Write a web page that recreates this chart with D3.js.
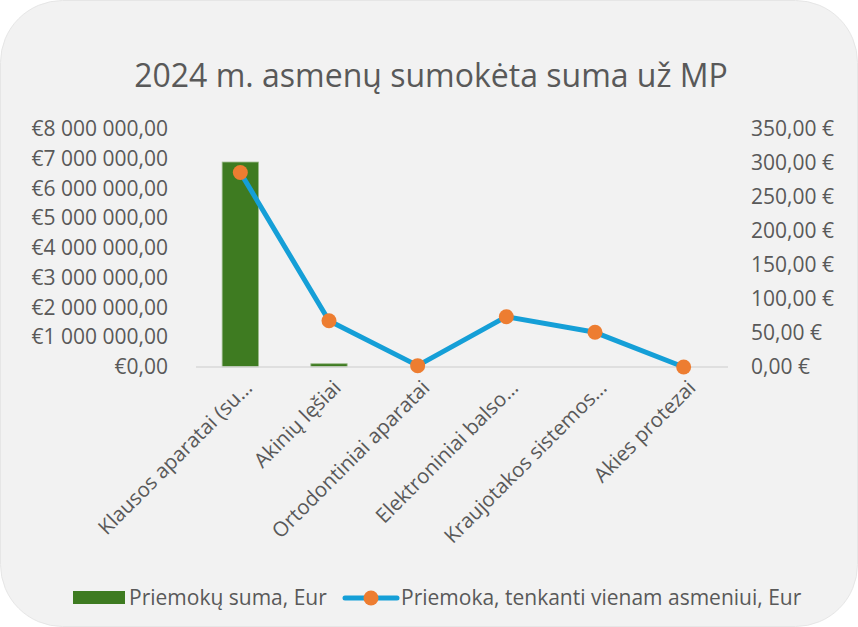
<!DOCTYPE html>
<html>
<head>
<meta charset="utf-8">
<script src="https://cdn.jsdelivr.net/npm/d3@7"></script>
<style>
  body { margin: 0; background: #ffffff; }
  svg text { font-family: "Open Sans", sans-serif; fill: #595959; }
</style>
</head>
<body>
<div id="vis"></div>
<script>
var width = 858, height = 627;

// data
var categories = [
  "Klausos aparatai (su…",
  "Akinių lęšiai",
  "Ortodontiniai aparatai",
  "Elektroniniai balso…",
  "Kraujotakos sistemos…",
  "Akies protezai"
];
var sumValues = [6890000, 110000, 0, 0, 0, 0];
var perPersonValues = [286, 68, 2, 74, 51, 0];
var leftTicks = [0, 1000000, 2000000, 3000000, 4000000, 5000000, 6000000, 7000000, 8000000];
var rightTicks = [0, 50, 100, 150, 200, 250, 300, 350];
var title = "2024 m. asmenų sumokėta suma už MP";
var seriesNames = ["Priemokų suma, Eur", "Priemoka, tenkanti vienam asmeniui, Eur"];

var plot = { left: 196, right: 728, top: 129, bottom: 367 };

var svg = d3.select("#vis").append("svg")
  .attr("width", width)
  .attr("height", height);

// chart background with big rounded corners
svg.append("rect")
  .attr("x", 0.5).attr("y", 0.5)
  .attr("width", width - 1).attr("height", height - 1)
  .attr("rx", 62).attr("ry", 62)
  .style("fill", "#f2f2f2")
  .style("stroke", "#e6e6e6");

svg.append("text")
  .attr("x", width / 2 + 2)
  .attr("y", 87)
  .attr("text-anchor", "middle")
  .attr("font-size", "32px")
  .text(title);

var x = d3.scaleBand().domain(categories).range([plot.left, plot.right]).paddingInner(0).paddingOuter(0);
var yLeft = d3.scaleLinear().domain([0, 8000000]).range([plot.bottom, plot.top]);
var yRight = d3.scaleLinear().domain([0, 350]).range([plot.bottom, plot.top]);

function fmtLeft(v) {
  var s = d3.format(",.2f")(v).replace(/,/g, " ").replace(".", ",");
  return "€" + s;
}
function fmtRight(v) {
  return d3.format(".2f")(v).replace(".", ",") + " €";
}

var leftAxis = svg.append("g")
  .attr("transform", "translate(" + (plot.left - 28) + ",0)")
  .call(d3.axisLeft(yLeft).tickValues(leftTicks).tickFormat(fmtLeft).tickSize(0).tickPadding(0));
leftAxis.select(".domain").remove();
leftAxis.selectAll("text").attr("font-size", "21px").style("font-family", "'Open Sans', sans-serif").style("fill", "#595959");

var rightAxis = svg.append("g")
  .attr("transform", "translate(" + (plot.right + 23) + ",0)")
  .call(d3.axisRight(yRight).tickValues(rightTicks).tickFormat(fmtRight).tickSize(0).tickPadding(0));
rightAxis.select(".domain").remove();
rightAxis.selectAll("text").attr("font-size", "21px").style("font-family", "'Open Sans', sans-serif").style("fill", "#595959");

// bars
var barW = x.bandwidth() * 0.41;
svg.append("g").selectAll("rect")
  .data(sumValues)
  .enter().append("rect")
  .attr("x", (d, i) => x(categories[i]) + x.bandwidth() / 2 - barW / 2)
  .attr("y", d => yLeft(d))
  .attr("width", barW)
  .attr("height", d => plot.bottom - yLeft(d))
  .style("fill", "#3e7b21")
  .style("stroke", d => d > 0 ? "#9dbb8c" : "none")
  .style("stroke-width", 0.8);

// category axis line
svg.append("line")
  .attr("x1", plot.left).attr("x2", plot.right)
  .attr("y1", plot.bottom).attr("y2", plot.bottom)
  .style("stroke", "#d9d9d9").style("stroke-width", 1.5);

// line series
var line = d3.line()
  .x((d, i) => x(categories[i]) + x.bandwidth() / 2)
  .y(d => yRight(d));

svg.append("path")
  .datum(perPersonValues)
  .attr("d", line)
  .style("fill", "none")
  .style("stroke", "#159fd7")
  .style("stroke-width", 5)
  .style("stroke-linejoin", "round");

svg.append("g").selectAll("circle")
  .data(perPersonValues)
  .enter().append("circle")
  .attr("cx", (d, i) => x(categories[i]) + x.bandwidth() / 2)
  .attr("cy", d => yRight(d))
  .attr("r", 7.5)
  .style("fill", "#ed7d31");

// rotated category labels
svg.append("g").selectAll("text")
  .data(categories)
  .enter().append("text")
  .attr("transform", d => "translate(" + (x(d) + x.bandwidth() / 2 + 3) + "," + (plot.bottom + 12) + ") rotate(-45)")
  .attr("text-anchor", "end")
  .attr("dy", "0.7em")
  .attr("font-size", "20.5px")
  .text(d => d);

// legend
var leg = svg.append("g");
leg.append("rect")
  .attr("x", 73).attr("y", 591)
  .attr("width", 52).attr("height", 13)
  .style("fill", "#3e7b21");
leg.append("text")
  .attr("x", 129).attr("y", 605)
  .attr("font-size", "21px")
  .text(seriesNames[0]);
leg.append("line")
  .attr("x1", 345).attr("x2", 397)
  .attr("y1", 598).attr("y2", 598)
  .style("stroke", "#159fd7").style("stroke-width", 5).style("stroke-linecap", "round");
leg.append("circle")
  .attr("cx", 371).attr("cy", 598).attr("r", 7.5)
  .style("fill", "#ed7d31");
leg.append("text")
  .attr("x", 401).attr("y", 605)
  .attr("font-size", "21px")
  .text(seriesNames[1]);
</script>
</body>
</html>
